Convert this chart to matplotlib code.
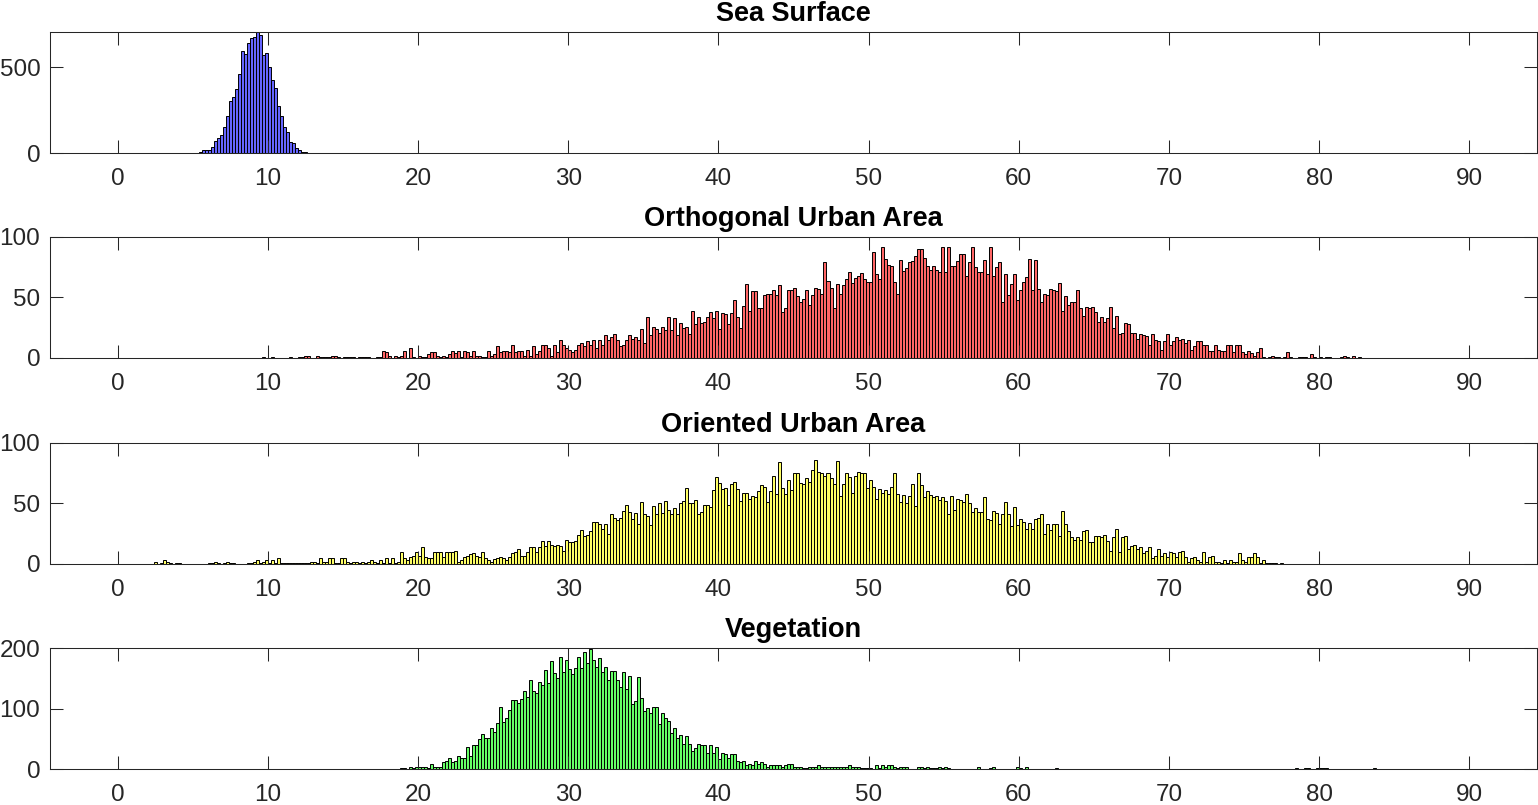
import numpy as np
import matplotlib
matplotlib.use("Agg")
import matplotlib.pyplot as plt

plt.rcParams['font.family'] = ['Liberation Sans', 'DejaVu Sans']

BIN = 0.2

# counts per 0.2-wide bin
sea_start = 5.4
sea_counts = [6, 17, 17, 17, 37, 70, 91, 108, 151, 215,
              304, 327, 372, 459, 593, 578, 643, 672, 675, 703,
              690, 570, 581, 500, 426, 378, 275, 217, 153, 122,
              66, 58, 29, 19, 10, 6, 2]

ortho_start = 9.6
ortho_counts = [1, 0,
                0, 1, 0, 0, 0, 0, 0, 1, 0, 0,
                1, 1, 2, 2, 0, 0, 2, 1, 1, 1,
                1, 2, 2, 1, 0, 1, 1, 1, 1, 0,
                1, 1, 1, 1, 0, 0, 1, 1, 6, 5,
                2, 0, 2, 1, 2, 6, 0, 8, 1, 0,
                2, 1, 1, 3, 5, 5, 2, 1, 2, 1,
                3, 6, 4, 6, 1, 6, 5, 2, 6, 2,
                2, 1, 1, 6, 2, 3, 10, 5, 6, 6,
                5, 11, 5, 6, 6, 2, 7, 2, 10, 3,
                6, 11, 11, 8, 2, 11, 5, 15, 11, 8,
                7, 5, 7, 11, 12, 10, 14, 11, 15, 8,
                15, 11, 19, 15, 17, 20, 15, 10, 11, 15,
                19, 16, 17, 15, 24, 12, 34, 19, 26, 24,
                21, 26, 23, 34, 23, 33, 19, 29, 25, 26,
                20, 39, 28, 34, 29, 30, 34, 38, 33, 39,
                24, 37, 36, 28, 37, 48, 34, 25, 43, 61,
                39, 55, 55, 41, 41, 52, 53, 53, 56, 52,
                60, 38, 41, 56, 56, 58, 51, 46, 49, 56,
                44, 52, 58, 57, 53, 79, 64, 58, 41, 61,
                53, 60, 65, 71, 62, 66, 68, 70, 65, 63,
                63, 88, 69, 65, 92, 82, 77, 76, 63, 53,
                81, 72, 74, 79, 80, 84, 90, 90, 83, 76,
                73, 76, 73, 71, 92, 71, 92, 76, 76, 80,
                86, 86, 68, 79, 92, 75, 71, 71, 81, 69,
                92, 68, 75, 79, 46, 69, 52, 61, 69, 48,
                56, 63, 67, 82, 56, 81, 57, 46, 53, 52,
                57, 56, 55, 62, 39, 51, 44, 46, 46, 56,
                41, 35, 42, 41, 42, 38, 30, 34, 30, 33,
                42, 25, 35, 20, 21, 29, 28, 21, 21, 16,
                20, 19, 18, 11, 20, 15, 14, 7, 14, 20,
                11, 14, 17, 15, 16, 12, 15, 7, 10, 14,
                14, 11, 11, 6, 6, 11, 7, 6, 6, 11,
                11, 5, 11, 11, 5, 3, 6, 4, 2, 5,
                8, 1, 0, 1, 2, 1, 1, 0, 1, 5,
                1, 0, 0, 1, 1, 1, 0, 3, 1, 0,
                1, 0, 1, 1, 0, 0, 0, 1, 2, 1,
                0, 2, 0, 1]

orient_start = 2.4
orient_counts = [2, 0, 1, 3, 2, 1, 0, 1,
                 1, 0, 0, 0, 0, 0, 0, 0, 0, 0,
                 1, 1, 2, 1, 0, 1, 2, 1, 1, 0,
                 0, 0, 0, 1, 1, 2, 3, 1, 2, 3,
                 1, 3, 1, 5, 1, 1, 1, 1, 1, 1,
                 1, 1, 1, 1, 2, 2, 1, 5, 2, 2,
                 5, 5, 1, 1, 5, 5, 2, 1, 2, 2,
                 1, 2, 1, 2, 3, 2, 1, 3, 1, 5,
                 1, 5, 1, 2, 10, 5, 3, 6, 7, 10,
                 7, 14, 6, 5, 5, 10, 10, 10, 6, 10,
                 10, 10, 11, 2, 3, 6, 7, 8, 9, 7,
                 6, 10, 5, 3, 2, 4, 5, 6, 5, 3,
                 6, 9, 10, 12, 7, 7, 10, 14, 14, 10,
                 14, 19, 15, 19, 16, 15, 16, 15, 11, 20,
                 18, 18, 19, 24, 28, 23, 24, 27, 35, 35,
                 33, 29, 33, 25, 41, 38, 36, 38, 44, 49,
                 43, 37, 42, 33, 51, 41, 40, 32, 48, 41,
                 50, 42, 52, 45, 41, 46, 41, 50, 52, 63,
                 50, 50, 53, 41, 43, 49, 49, 47, 61, 72,
                 67, 62, 63, 49, 66, 68, 62, 52, 59, 59,
                 54, 56, 55, 60, 65, 64, 51, 60, 73, 58,
                 84, 63, 58, 69, 61, 75, 75, 67, 66, 71,
                 68, 78, 86, 76, 75, 73, 75, 71, 66, 85,
                 56, 66, 75, 72, 59, 73, 76, 75, 75, 63,
                 69, 64, 54, 62, 59, 61, 58, 64, 75, 58,
                 51, 57, 50, 56, 66, 48, 75, 65, 55, 60,
                 57, 55, 56, 53, 55,
                 52, 41, 56, 45, 54, 53, 51, 58, 50, 43,
                 46, 43, 43, 55, 37, 36, 44, 42, 33, 41,
                 51, 41, 31, 47, 32, 37, 35, 29, 34, 29,
                 37, 38, 41, 25, 33, 28, 33, 33, 23, 44,
                 33, 27, 22, 20, 22, 20, 27, 28, 18, 18,
                 23, 23, 22, 24, 19, 11, 22, 29, 10, 22,
                 23, 12, 15, 16, 12, 14, 9, 11, 14, 5,
                 7, 12, 7, 9, 6, 10, 9, 6, 10, 11,
                 6, 2, 5, 6, 3, 2, 10, 2, 6, 7,
                 2, 2, 1, 3, 1, 3, 2, 2, 9, 3,
                 2, 6, 6, 9, 6, 1, 3, 1, 1, 1,
                 1, 0, 1]

veg_start = 18.8
veg_counts = [1, 1, 0, 3, 1, 3,
              3, 4, 4, 1, 9, 4, 4, 4, 11, 13,
              18, 11, 14, 22, 18, 19, 36, 22, 39, 40,
              50, 58, 52, 52, 68, 62, 76, 103, 78, 85,
              98, 114, 114, 109, 116, 129, 119, 147, 129, 126,
              144, 139, 163, 142, 178, 158, 150, 185, 160, 181,
              165, 157, 167, 185, 167, 193, 175, 199, 181, 168,
              183, 160, 168, 147, 162, 162, 147, 136, 160, 132,
              154, 108, 113, 152, 118, 96, 101, 93, 103, 103,
              75, 93, 85, 80, 60, 67, 52, 57, 42, 55,
              42, 29, 34, 42, 39, 39, 26, 39, 26, 36,
              16, 26, 24, 19, 24, 24, 14, 11, 13, 6,
              9, 6, 13, 9, 11, 9, 4, 6, 6, 6,
              6, 4, 6, 8, 8, 4, 4, 4, 1, 1,
              4, 3, 4, 6, 4, 4, 3, 3, 3, 3,
              4, 3, 4, 6, 3, 3, 4, 1, 1, 1,
              1, 0, 6, 1, 6, 3, 6, 6, 4, 1,
              4, 4, 3, 0, 0, 0, 3, 4, 1, 3,
              1, 1, 1, 3, 1, 3, 1]
veg_tail_bins = [57.2, 58.0, 58.2, 59.8, 60.0, 60.4, 62.4,
                 78.4, 79.0, 79.2, 79.8, 80.0, 80.2, 80.4, 83.6]
veg_tail_counts = [3, 1, 3, 3, 1, 3, 1, 1, 1, 1, 1, 1, 1, 1, 1]

titles = ['Sea Surface', 'Orthogonal Urban Area', 'Oriented Urban Area', 'Vegetation']
face_colors = [(0.4, 0.4, 1.0), (1.0, 0.4, 0.4), (1.0, 1.0, 0.4), (0.4, 1.0, 0.4)]
y_ticks = [[0, 500], [0, 50, 100], [0, 50, 100], [0, 100, 200]]
y_tops = [max(sea_counts), 100, 100, 200]
x_ticks = list(range(0, 100, 10))

series = [(sea_start, sea_counts), (ortho_start, ortho_counts),
          (orient_start, orient_counts), (veg_start, veg_counts)]

fig = plt.figure(figsize=(15.38, 8.05), dpi=100)
bottoms = [0.8096, 0.5553, 0.2994, 0.0447]
gray = (0.15, 0.15, 0.15)

for i in range(4):
    ax = fig.add_axes([0.0325, bottoms[i], 0.9668, 0.1503])
    start, counts = series[i]
    lefts = start + BIN * np.arange(len(counts))
    ax.bar(lefts, counts, width=BIN, align='edge', color=face_colors[i],
           edgecolor='black', linewidth=0.7)
    if i == 3:
        ax.bar(veg_tail_bins, veg_tail_counts, width=BIN, align='edge',
               color=face_colors[i], edgecolor='black', linewidth=0.7)
    ax.set_xlim(-4.5, 94.5)
    ax.set_ylim(0, y_tops[i])
    ax.set_xticks(x_ticks)
    ax.set_yticks(y_ticks[i])
    ax.tick_params(direction='in', length=9.5, width=0.75, top=True, right=True,
                   labelsize=17.5, colors=gray)
    ax.tick_params(axis='x', pad=10.5)
    ax.tick_params(axis='y', pad=7)
    for sp in ax.spines.values():
        sp.set_color(gray)
        sp.set_linewidth(0.75)
    ax.set_title(titles[i], fontsize=19.5, fontweight='bold', pad=8)

fig.savefig('out.png', dpi=100)
